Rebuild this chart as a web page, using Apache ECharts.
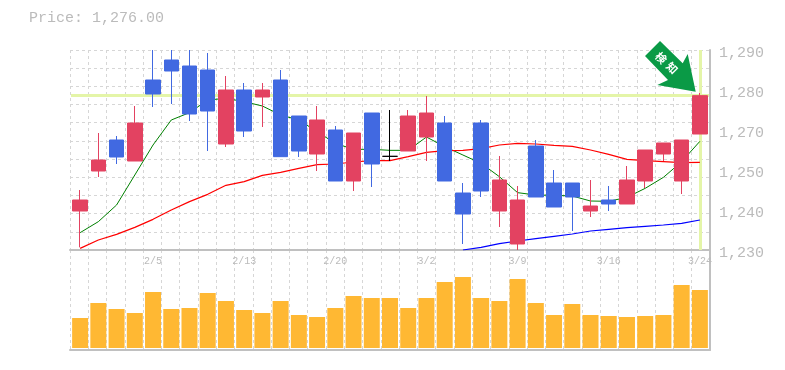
<!DOCTYPE html>
<html><head><meta charset="utf-8">
<script src="https://cdn.jsdelivr.net/npm/echarts@6/dist/echarts.min.js"></script>
<style>html,body{margin:0;padding:0;background:#fff}#c{width:785px;height:370px}</style>
</head><body><div id="c"></div>
<script>
const titleText = 'Price: 1,276.00';
const dates = ['','','','','2/5','','','','','2/13','','','','','2/20','','','','','3/2','','','','','3/9','','','','','3/16','','','','','3/24'];
const opens  = [1241.7,1253.7,1263,1256.7,1281,1287,1285.2,1284,1261.8,1278,1275.9,1281,1270.2,1258.8,1266,1250.7,1271.1,1258.1,1259.7,1263.9,1268.1,1247.1,1268.1,1241.7,1231.8,1261.2,1250.1,1250.1,1241.7,1245,1243.8,1250.7,1258.8,1250.7,1264.8];
const closes = [1245,1257,1257.9,1268.1,1276.8,1283.7,1270.8,1271.7,1278,1265.7,1278,1258,1259.7,1269,1250.7,1265.1,1255.8,1258.1,1270.2,1271.1,1250.7,1240.8,1247.7,1251,1245,1245.9,1242.9,1245.9,1243.2,1243.8,1251,1260,1262.1,1263,1276.3];
const lows   = [1230.8,1251.9,1255.8,1256.7,1272.9,1273.8,1268.7,1259.7,1260.9,1263.9,1266.9,1257.9,1257.9,1253.7,1250.7,1247.7,1248.9,1256.7,1259.7,1256.7,1250.7,1231.8,1245.9,1236.9,1230,1245.9,1242.9,1235.7,1239.9,1241.7,1243.8,1248.6,1256.7,1246.8,1264.8];
const highs  = [1248,1265.1,1264.2,1273.2,1290,1290,1290,1289.1,1282.2,1280.1,1280.1,1284,1270.2,1273.2,1267.2,1265.1,1271.1,1272,1272,1276.2,1270.2,1250.1,1269,1258.2,1249.2,1263,1254,1250.1,1251,1249.2,1255.2,1260,1262.1,1263,1277.1];
const maGreen = [1235.2,1238.5,1243.5,1252.5,1261.5,1269,1271.2,1275,1275.5,1274.5,1273.2,1270.5,1269,1265.5,1262,1260.2,1260.2,1259.9,1259.9,1263.9,1261,1258.5,1256,1252,1247.2,1246.5,1246.4,1246.2,1244.7,1244.6,1245.8,1248.5,1251.8,1256.5,1262.6];
const maRed = [1230.5,1233,1234.7,1236.8,1239.2,1242,1244.5,1246.7,1249.4,1250.5,1252.4,1253.3,1254.5,1255.6,1255.8,1256.4,1256.8,1256.8,1258,1259.3,1259.8,1259.9,1260.4,1261.5,1262,1261.8,1261.4,1261.1,1260,1258.7,1257.2,1256.8,1256.5,1256.2,1256.3];
const maBlue = [null,null,null,null,null,null,null,null,null,null,null,null,null,null,null,null,null,null,null,null,null,1230,1230.8,1231.9,1232.7,1233.4,1234.1,1234.8,1235.7,1236.2,1236.7,1237.1,1237.5,1238,1239];
const volumes = [30,45,39,35,56,39,40,55,47,38,35,47,33,31,40,52,50,50,40,50,66,71,50,47,69,45,33,44,33,32,31,32,33,63,58];
const priceTicks = [1230,1242,1254,1266,1278,1290];
const priceTickLabels = ['1,230','1,240','1,250','1,270','1,280','1,290'];
const gridCols = 35, gridRows = 11;

const FONT = '"Liberation Mono", monospace';
const RED = '#e34261', BLUE = '#4169e1', GRID = '#d6d6d6', AXIS = '#c0c0c0', TXT = '#bbbbbb', HL = '#e4f5a8';
const candle = opens.map((o,i)=>{
  const v=[o,closes[i],lows[i],highs[i]];
  if(o===closes[i]) return {value:v,itemStyle:{color:'#000',color0:'#000',borderColor:'#000',borderColor0:'#000',borderColorDoji:'#000'}};
  return v;
});
const dashed = {show:true,lineStyle:{color:GRID,type:[3,3],width:1}};
const none = {axisLine:{show:false},axisTick:{show:false},axisLabel:{show:false},splitLine:{show:false}};
const solid = {show:true,onZero:false,lineStyle:{color:AXIS,width:2}};
const chart = echarts.init(document.getElementById('c'),null,{renderer:'canvas'});
const last = dates.length-1;
chart.setOption({
  animation:false,
  backgroundColor:'#fff',
  title:{text:titleText,left:24,top:6,textStyle:{fontFamily:FONT,fontSize:15,fontWeight:'normal',color:TXT}},
  grid:[
    {left:71,top:50,width:638,height:200},
    {left:71,top:250,width:638,height:100},
    {left:70,top:50,width:640,height:200},
    {left:70,top:250,width:640,height:100}
  ],
  xAxis:[
    {type:'category',gridIndex:0,data:dates,boundaryGap:true,...none},
    {type:'category',gridIndex:1,data:dates,boundaryGap:true,position:'top',axisLine:{show:false},axisTick:{show:false},splitLine:{show:false},
     axisLabel:{show:true,inside:true,interval:0,margin:6,fontFamily:FONT,fontSize:10,color:TXT,hideOverlap:false}},
    {type:'value',gridIndex:2,min:0,max:gridCols,interval:1,position:'bottom',axisLine:{show:false},axisTick:{show:false},axisLabel:{show:false},splitLine:dashed},
    {type:'value',gridIndex:3,min:0,max:gridCols,interval:1,position:'bottom',axisLine:solid,axisTick:{show:false},axisLabel:{show:false},splitLine:dashed},
    {type:'value',gridIndex:3,min:0,max:gridCols,interval:1,position:'top',axisLine:solid,axisTick:{show:false},axisLabel:{show:false},splitLine:{show:false}}
  ],
  yAxis:[
    {type:'value',gridIndex:0,min:1230,max:1290,position:'right',...none},
    {type:'value',gridIndex:1,min:-2,max:98,position:'right',...none},
    {type:'value',gridIndex:2,min:0,max:gridRows,interval:1,position:'left',axisLine:{show:false},axisTick:{show:false},axisLabel:{show:false},splitLine:dashed},
    {type:'value',gridIndex:3,min:0,max:1,position:'right',axisLine:solid,axisTick:{show:false},axisLabel:{show:false},splitLine:{show:false}},
    {type:'value',gridIndex:2,min:1230,max:1290,position:'right',
     axisLine:solid,axisTick:{show:false},splitLine:{show:false},
     axisLabel:{show:true,customValues:priceTicks,margin:9,fontFamily:FONT,fontSize:15,color:TXT,
       verticalAlign:'top',lineHeight:7,
       formatter:v=>priceTickLabels[priceTicks.indexOf(v)]}}
  ],
  series:[
    {name:'hl',type:'line',xAxisIndex:0,yAxisIndex:0,data:[],z:1,silent:true,symbol:'none',
     markLine:{silent:true,symbol:'none',z:1,label:{show:false},animation:false,
       lineStyle:{color:HL,width:3,type:'solid'},
       data:[{yAxis:closes[last]},{xAxis:last}]}},
    {name:'maGreen',type:'line',xAxisIndex:0,yAxisIndex:0,data:maGreen,symbol:'none',z:2,lineStyle:{color:'#008000',width:1}},
    {name:'maRed',type:'line',xAxisIndex:0,yAxisIndex:0,data:maRed,symbol:'none',z:2,lineStyle:{color:'#ff0000',width:1.2}},
    {name:'maBlue',type:'line',xAxisIndex:0,yAxisIndex:0,data:maBlue,symbol:'none',z:2,lineStyle:{color:'#0000ff',width:1.2}},
    {name:'candles',type:'candlestick',xAxisIndex:0,yAxisIndex:0,data:candle,z:3,barWidth:15,
     itemStyle:{color:RED,color0:BLUE,borderColor:RED,borderColor0:BLUE,borderWidth:1}},
    {name:'volume',type:'bar',xAxisIndex:1,yAxisIndex:1,data:volumes,barWidth:16,itemStyle:{color:'#ffb833'},z:3}
  ],
  graphic:[
    {type:'polygon',z:100,silent:true,shape:{points:[[660,41],[682.7,63.3],[687.7,54],[695.7,91.7],[657.3,85],[668,80],[645,56]]},style:{fill:'#0a9a46'}},
    {type:'text',z:101,silent:true,x:661,y:58,rotation:-Math.PI/4,style:{text:'検',fill:'#fff',font:'bold 11px "Noto Sans CJK JP"',align:'center',verticalAlign:'middle'}},
    {type:'text',z:101,silent:true,x:672,y:68,rotation:-Math.PI/4,style:{text:'知',fill:'#fff',font:'bold 11px "Noto Sans CJK JP"',align:'center',verticalAlign:'middle'}}
  ]
});
</script></body></html>
